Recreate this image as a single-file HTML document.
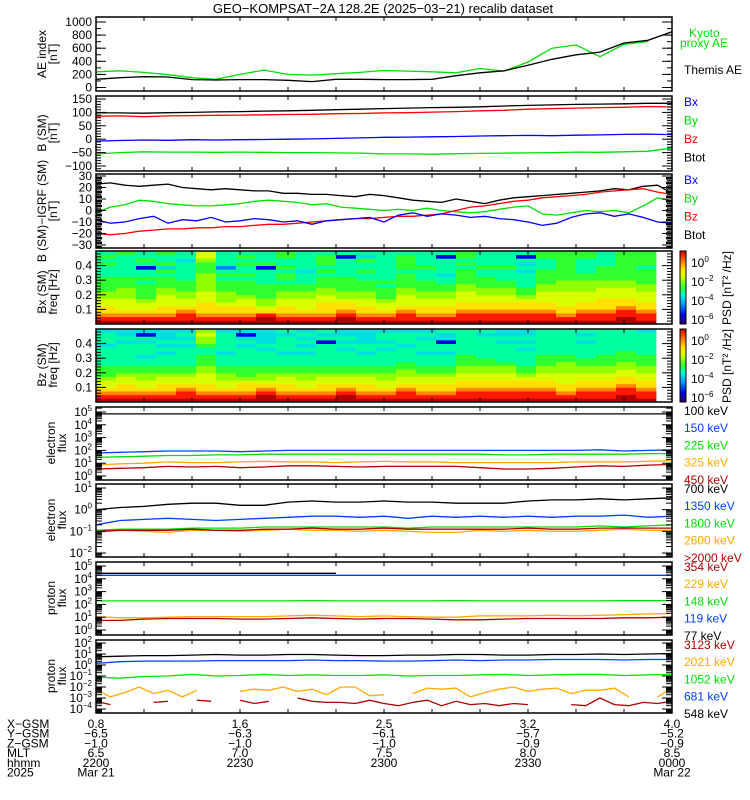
<!DOCTYPE html>
<html><head><meta charset="utf-8">
<style>
html,body{margin:0;padding:0;background:#fff;}
svg{display:block;font-family:"Liberation Sans",sans-serif;}
text{font-size:12px;}
</style></head>
<body>
<svg id="chart" width="750" height="800" viewBox="0 0 750 800" xmlns="http://www.w3.org/2000/svg">
<text x="383" y="13" text-anchor="middle" style="font-size:13px">GEO−KOMPSAT−2A 128.2E (2025−03−21) recalib dataset</text>
</svg>
<script>
// ---------- data (minutes since 22:00) ----------
const minutes5 = [0,5,10,15,20,25,30,35,40,45,50,55,60,65,70,75,80,85,90,95,100,105,110,115,120];
const minutes3 = [0,3,6,9,12,15,18,21,24,27,30,33,36,39,42,45,48,51,54,57,60,63,66,69,72,75,78,81,84,87,90,93,96,99,102,105,108,111,114,117,120];
const aeKyoto = [240,255,230,195,150,125,200,265,200,190,210,230,260,250,240,225,290,250,390,600,650,470,660,700,null];
const aeThemis = [125,150,165,160,120,115,120,120,110,90,125,125,120,120,125,180,225,255,340,430,500,540,680,720,850];
const bBtot = [98,98,97,99,100,102,103,105,106,108,110,112,114,116,118,119,121,124,126,128,130,131,132,134,134];
const bBz = [86,87,84,87,88,89,90,91,92,93,95,96,98,99,101,103,106,108,112,114,116,118,119,122,120];
const bBx = [-7,-5,-3,-4,-2,-3,-2,-1,0,1,3,5,7,8,9,10,12,13,14,13,15,16,18,19,17];
const bBy = [-55,-50,-47,-48,-48,-49,-48,-49,-50,-50,-51,-52,-55,-55,-56,-54,-53,-52,-51,-50,-48,-49,-47,-45,-33];
const dBtot = [23,24,22,21,22,23,20,19,18,19,18,17,17,15,15,14,14,13,12,14,13,11,9,8,7,10,8,6,9,11,12,13,14,15,16,17,19,18,21,22,15];
const dBy = [-2,3,5,9,8,6,5,4,4,5,6,8,9,8,7,5,6,3,2,1,0,1,0,2,0,-1,-2,-1,1,3,4,-3,-4,-2,0,-1,0,-2,4,11,8];
const dBz = [-20,-21,-20,-18,-17,-16,-16,-15,-15,-14,-14,-13,-12,-12,-11,-10,-9,-8,-7,-7,-6,-5,-5,-4,-3,0,3,4,6,8,9,11,12,13,14,16,17,18,19,16,14];
const dBx = [-8,-11,-10,-7,-5,-11,-8,-9,-6,-10,-9,-7,-8,-10,-9,-12,-9,-8,-7,-6,-10,-4,-2,-5,-3,-4,-6,-5,-7,-8,-10,-13,-11,-6,-3,-2,-5,-3,-6,-10,-11];
const specBx = ["ba988776655554445454","ba987776665554444445","ba987765555454414544","ba988777665554535445","baa98776655544444344","ba988877766666555677","ba988766655545424444","ba988776555545445454","bba87665555444415444","ba988776655455454455","ba987776655444344444","ba988877665554545554","bba98876655554444414","ba988776655544544534","ba987765554544444444","baa98777665555455554","ba988776655544454444","ba988776655443444414","baa98877766555545455","baa98877665554454444","baa98877665544454444","baa98876554444343414","baa98877766555544455","ba988777766655555555","baa98877766655444455","baa98887776655554444","bbaa9887776655555555","baa98877766555545555"];
const specBz = ["ba987765554444434443","ba988776554444443433","ba987766554434443413","ba988776554443434333","baa98776554444434343","ba988777665554456676","ba987766554443444443","ba988765554444434313","bba98766554444343333","ba988776554443444434","ba987766554443434343","ba988776554444441434","bba98776554444343433","ba988776554443443333","ba987766554444343443","baa98776655444434443","ba988776554443444343","ba988776554443441334","baa98877665554444444","baa98877665544444434","baa98877665444443433","baa98876554444343433","baa98877665554444444","ba988777666554444444","baa98877665544443434","baa98877665554444444","bbaa9887766555444444","baa98877665554444443"];
const e100 = [4.85,4.85,4.85,4.85,4.85,4.85,4.85,4.85,4.85,4.85,4.85,4.85,4.85,4.85,4.85,4.85,4.85,4.85,4.85,4.85,4.85,4.85,4.85,4.85,4.85];
const e150 = [1.8,1.85,1.9,1.95,1.95,1.95,1.9,1.95,2.0,2.0,2.0,2.0,2.0,2.0,2.0,2.0,2.0,2.0,2.0,2.0,2.0,2.05,1.95,2.0,2.05];
const e225 = [1.45,1.5,1.55,1.6,1.6,1.65,1.65,1.7,1.7,1.7,1.7,1.7,1.7,1.7,1.7,1.7,1.7,1.65,1.65,1.7,1.7,1.7,1.7,1.75,1.75];
const e325 = [0.85,0.95,1.0,1.1,1.05,1.05,1.1,1.15,1.1,1.1,1.05,1.1,1.15,1.1,1.1,1.05,1.05,1.05,1.05,1.05,1.1,1.1,1.1,1.15,1.2];
const e450 = [0.55,0.6,0.65,0.75,0.7,0.75,0.65,0.7,0.8,0.8,0.75,0.7,0.75,0.75,0.75,0.75,0.65,0.55,0.55,0.6,0.7,0.8,0.75,0.85,0.9];
const e700 = [0.0,0.1,0.15,0.25,0.3,0.3,0.2,0.2,0.35,0.4,0.35,0.35,0.4,0.35,0.35,0.3,0.3,0.3,0.4,0.45,0.45,0.5,0.45,0.5,0.55];
const e1350 = [-0.7,-0.5,-0.45,-0.4,-0.45,-0.5,-0.45,-0.4,-0.35,-0.3,-0.3,-0.35,-0.3,-0.4,-0.3,-0.35,-0.3,-0.35,-0.3,-0.35,-0.3,-0.3,-0.25,-0.35,-0.3];
const e1800 = [-0.95,-0.9,-0.9,-0.9,-0.85,-0.85,-0.85,-0.8,-0.8,-0.8,-0.8,-0.8,-0.8,-0.85,-0.8,-0.8,-0.8,-0.8,-0.8,-0.8,-0.8,-0.75,-0.8,-0.75,-0.7];
const e2600 = [-1.05,-0.95,-1.0,-1.05,-0.95,-0.95,-1.0,-0.95,-0.9,-0.95,-0.95,-1.0,-0.95,-1.0,-1.05,-1.05,-0.95,-1.0,-0.95,-1.0,-1.0,-0.95,-0.9,-0.95,-0.95];
const e2000 = [-1.0,-0.95,-0.95,-0.95,-0.9,-0.95,-0.95,-0.9,-0.9,-0.85,-0.9,-0.9,-0.85,-0.9,-0.9,-0.9,-0.9,-0.9,-0.85,-0.9,-0.9,-0.85,-0.85,-0.85,-0.85];
const p77 = [4.43,4.43,4.43,4.43,4.43,4.43,4.43,4.43,4.43,4.43,4.43,null,null,null,null,null,null,null,null,null,null,null,null,null,null];
const p119 = [4.27,4.27,4.27,4.27,4.27,4.27,4.27,4.27,4.27,4.27,4.27,4.27,4.27,4.27,4.27,4.27,4.27,4.27,4.27,4.27,4.27,4.27,4.27,4.27,4.27];
const p148 = [2.27,2.27,2.27,2.27,2.27,2.27,2.27,2.27,2.27,2.3,2.27,2.27,2.27,2.27,2.27,2.3,2.27,2.27,2.27,2.27,2.27,2.27,2.3,2.3,2.3];
const p229 = [1.05,0.95,0.95,1.0,1.05,1.05,1.05,1.05,1.1,1.15,1.1,1.05,1.1,1.05,1.0,1.0,1.1,1.1,1.1,1.15,1.1,1.15,1.2,1.25,1.3];
const p354 = [0.75,0.75,0.85,0.9,0.9,0.9,0.85,0.85,0.9,0.95,0.9,0.85,0.9,0.9,0.85,0.8,0.8,0.85,0.9,0.9,0.9,0.9,0.95,0.95,1.0];
const p548 = [0.75,0.8,0.85,0.85,0.9,0.95,0.9,0.9,0.95,0.95,0.9,0.85,0.85,0.9,0.9,0.95,0.95,0.9,0.9,0.95,0.95,1.0,0.95,1.0,1.05];
const p681 = [0.15,0.3,0.35,0.35,0.35,0.4,0.4,0.4,0.4,0.45,0.4,0.4,0.35,0.35,0.4,0.45,0.4,0.45,0.45,0.5,0.5,0.5,0.45,0.5,0.5];
const p1052 = [-1.1,-1.2,-1.05,-1.0,-0.85,-1.0,-0.95,-0.85,-0.95,-0.9,-0.95,-0.95,-0.9,-1.0,-0.95,-0.95,-0.9,-0.85,-0.95,-0.9,-0.85,-0.85,-0.95,-0.9,-0.85];
const p2021 = [-2.2,-2.9,-2.5,-2.0,-2.6,-2.3,-2.9,-2.3,null,null,-2.4,-2.2,-2.3,-2.0,-2.4,-2.2,-2.7,-2.0,-2.0,-2.8,-2.7,null,-2.6,-2.1,-2.2,-2.1,-2.9,-2.5,-2.2,-2.0,-2.4,-2.2,-2.1,-2.6,-2.3,-2.3,-2.1,-2.9,null,-2.9,-2.1];
const p3123 = [-3.3,-3.6,null,null,-3.4,-3.3,null,-3.2,-3.3,null,-3.2,-3.5,-3.3,null,-3.0,-3.3,-3.4,-3.4,-3.5,-3.2,-3.5,-3.7,-3.4,-3.2,-3.7,-3.3,-3.6,-3.5,-3.7,-3.5,-3.6,null,null,-3.6,-3.7,-3.0,-3.6,-3.7,-3.4,-3.5,-3.3];
const xTickLabels = {xgsm:["0.8","1.6","2.5","3.2","4.0"], ygsm:["−6.5","−6.3","−6.1","−5.7","−5.2"], zgsm:["−1.0","−1.0","−1.0","−0.9","−0.9"], mlt:["6.5","7.0","7.5","8.0","8.5"], hhmm:["2200","2230","2300","2330","0000"], date:["Mar 21","","","","Mar 22"]};

// ---------- helpers ----------
const svg = document.getElementById('chart');
const NS = 'http://www.w3.org/2000/svg';
const X0 = 96, X1 = 672;
function xs(m){ return X0 + (X1 - X0) * m / 120; }
function mk(tag, attrs, parent){ const e = document.createElementNS(NS, tag); for (const k in attrs) e.setAttribute(k, attrs[k]); (parent||svg).appendChild(e); return e; }
function lin(v0,y0,v1,y1){ return v => y0 + (v - v0) * (y1 - y0) / (v1 - v0); }

const panels = [
 {id:'ae', top:17, bot:91, y:lin(0,87.5,1000,22), log:false},
 {id:'b', top:96, bot:171, y:lin(150,99,-100,166), log:false},
 {id:'db', top:174, bot:248, y:lin(30,176,-30,245), log:false},
 {id:'specx', top:251, bot:324, y:lin(0,324,0.5,251), log:false},
 {id:'specz', top:329, bot:402, y:lin(0,402,0.5,329), log:false},
 {id:'e1', top:407, bot:480, y:lin(5,412,0,476), log:true, lo:0, hi:5},
 {id:'e2', top:484, bot:557, y:lin(1,488,-2,553), log:true, lo:-2, hi:1},
 {id:'p1', top:562, bot:635, y:lin(5,566,0,630), log:true, lo:0, hi:5},
 {id:'p2', top:640, bot:713, y:lin(2,643,-4,709), log:true, lo:-4, hi:2}
];
const P = {}; panels.forEach(p => P[p.id] = p);

function series(p, xsArr, vals, color, name){
  const g = mk('g', {});
  
  
  let seg = [];
  const flush = () => { if (seg.length > 1) mk('polyline', {points: seg.join(' '), fill:'none', stroke:color, 'stroke-width':1.3}, g); seg = []; };
  for (let i = 0; i < vals.length; i++){
    const v = vals[i];
    if (v === null || v === undefined){ flush(); continue; }
    let yy = p.y(v); yy = Math.max(p.top, Math.min(p.bot, yy));
    seg.push(xs(xsArr[i]).toFixed(1) + ',' + yy.toFixed(1));
  }
  flush();
}

function ylab(p, v, label, supText){
  const t = mk('text', {x: 92, y: p.y(v) + 4, 'text-anchor':'end'});
  
  
  if (supText !== undefined){
    t.textContent = '10';
    const s = mk('tspan', {dy:-5, style:'font-size:8px'}, t); s.textContent = supText;
  } else t.textContent = label;
}

function ticksH(y, x, len, dir){ mk('line', {x1:x, x2:x + dir*len, y1:y, y2:y, stroke:'#000', 'stroke-width':1}); }

// ---------- spectrograms ----------
const cmap = {'0':'#30006a','1':'#0000e0','2':'#0080ff','3':'#00e0e0','4':'#00ffa0','5':'#30ff30','6':'#90ff00','7':'#d8ff00','8':'#ffe000','9':'#ff8800','a':'#ff1800','b':'#b00000'};
function spectro(p, cols, name){
  const g = mk('g', {});
  
  
  const colW = (656 - X0) / cols.length;
  cols.forEach((s, ci) => {
    const nb = s.length;
    for (let r = 0; r < nb; r++){
      const f0 = 0.5 * r / nb, f1 = 0.5 * (r + 1) / nb;
      const y1 = p.y(f1), y0 = p.y(f0);
      mk('rect', {x: (X0 + ci*colW).toFixed(2), y: y1.toFixed(2), width: (colW+0.4).toFixed(2), height: (y0 - y1 + 0.4).toFixed(2), fill: cmap[s[r]]}, g);
    }
  });
}
spectro(P.specx, specBx, 'bx-spectrogram');
spectro(P.specz, specBz, 'bz-spectrogram');

// ---------- series ----------
series(P.ae, minutes5, aeKyoto, '#00e000', 'kyoto-proxy-ae-line');
series(P.ae, minutes5, aeThemis, '#000', 'themis-ae-line');
series(P.b, minutes5, bBtot, '#000', 'btot-line');
series(P.b, minutes5, bBz, '#ff0000', 'bz-line');
series(P.b, minutes5, bBx, '#0000ff', 'bx-line');
series(P.b, minutes5, bBy, '#00e000', 'by-line');
series(P.db, minutes3, dBtot, '#000', 'dbtot-line');
series(P.db, minutes3, dBy, '#00e000', 'dby-line');
series(P.db, minutes3, dBz, '#ff0000', 'dbz-line');
series(P.db, minutes3, dBx, '#0000ff', 'dbx-line');
series(P.e1, minutes5, e100, '#000', 'electron-100kev');
series(P.e1, minutes5, e150, '#0040ff', 'electron-150kev');
series(P.e1, minutes5, e225, '#00e000', 'electron-225kev');
series(P.e1, minutes5, e325, '#ffaa00', 'electron-325kev');
series(P.e1, minutes5, e450, '#b00000', 'electron-450kev');
series(P.e2, minutes5, e700, '#000', 'electron-700kev');
series(P.e2, minutes5, e1350, '#0040ff', 'electron-1350kev');
series(P.e2, minutes5, e1800, '#00e000', 'electron-1800kev');
series(P.e2, minutes5, e2600, '#ffaa00', 'electron-2600kev');
series(P.e2, minutes5, e2000, '#b00000', 'electron-gt2000kev');
series(P.p1, minutes5, p77, '#000', 'proton-77kev');
series(P.p1, minutes5, p119, '#0040ff', 'proton-119kev');
series(P.p1, minutes5, p148, '#00e000', 'proton-148kev');
series(P.p1, minutes5, p229, '#ffaa00', 'proton-229kev');
series(P.p1, minutes5, p354, '#b00000', 'proton-354kev');
series(P.p2, minutes5, p548, '#000', 'proton-548kev');
series(P.p2, minutes5, p681, '#0040ff', 'proton-681kev');
series(P.p2, minutes5, p1052, '#00e000', 'proton-1052kev');
series(P.p2, minutes3, p2021, '#ffaa00', 'proton-2021kev');
series(P.p2, minutes3, p3123, '#b00000', 'proton-3123kev');

// ---------- axes ----------
panels.forEach(p => {
  const r = mk('rect', {x:X0, y:p.top, width:X1-X0, height:p.bot-p.top, fill:'none', stroke:'#000', 'stroke-width':1.5});
  
  
  for (let m = 10; m < 120; m += 10){
    const x = xs(m);
    mk('line', {x1:x, x2:x, y1:p.top, y2:p.top+4, stroke:'#000'});
    mk('line', {x1:x, x2:x, y1:p.bot, y2:p.bot-4, stroke:'#000'});
  }
  if (p.log){
    for (let d = p.lo - 1; d <= p.hi; d++){
      for (let k = 1; k <= 9; k++){
        const yy = p.y(d + Math.log10(k));
        if (yy < p.top || yy > p.bot) continue;
        const len = k === 1 ? 10 : 6;
        ticksH(yy, X0, len, 1); ticksH(yy, X1, len, -1);
      }
      if (d >= p.lo) ylab(p, d, null, String(d).replace('-', '−'));
    }
  }
});
function linTicks(p, vals, minorStep, lo, hi){
  vals.forEach(v => { ticksH(p.y(v), X0, 10, 1); ticksH(p.y(v), X1, 10, -1); ylab(p, v, String(v).replace('-', '−')); });
  for (let v = lo; v <= hi + 1e-9; v += minorStep){ const yy = p.y(v); if (yy < p.top || yy > p.bot) continue; ticksH(yy, X0, 5, 1); ticksH(yy, X1, 5, -1); }
}
linTicks(P.ae, [0,200,400,600,800,1000], 100, 0, 1000);
linTicks(P.b, [150,100,50,0,-50,-100], 10, -110, 150);
linTicks(P.db, [30,20,10,0,-10,-20,-30], 2, -32, 30);
linTicks(P.specx, [0.1,0.2,0.3,0.4], 0.02, 0, 0.5);
linTicks(P.specz, [0.1,0.2,0.3,0.4], 0.02, 0, 0.5);
for (let v = -32; v <= 30; v += 4){ mk('rect', {x:X0, y:P.db.y(v)-1.3, width:6, height:2.6, fill:'#000'}); mk('rect', {x:X1-6, y:P.db.y(v)-1.3, width:6, height:2.6, fill:'#000'}); }

// ---------- y-axis titles ----------
function ytitle(x, y, lines, name){
  const t = mk('text', {transform:`translate(${x},${y}) rotate(-90)`, 'text-anchor':'middle'});
  
  
  lines.forEach((l, i) => { const s = mk('tspan', {x:0, dy: i ? 11 : 0}, t); s.textContent = l; });
}
ytitle(46, 54, ['AE index', '[nT]'], 'ae-y-axis-title');
ytitle(46, 133, ['B (SM)', '[nT]'], 'b-y-axis-title');
ytitle(46, 211, ['B (SM)−IGRF (SM)', '[nT]'], 'db-y-axis-title');
ytitle(46, 292, ['Bx (SM)', 'freq [Hz]'], 'bx-spec-y-axis-title');
ytitle(46, 365, ['Bz (SM)', 'freq [Hz]'], 'bz-spec-y-axis-title');
ytitle(55, 443, ['electron', 'flux'], 'electron-flux-1-y-axis-title');
ytitle(55, 520, ['electron', 'flux'], 'electron-flux-2-y-axis-title');
ytitle(55, 598, ['proton', 'flux'], 'proton-flux-1-y-axis-title');
ytitle(55, 676, ['proton', 'flux'], 'proton-flux-2-y-axis-title');

// ---------- legends ----------
function leg(x, y, txt, color, name){
  const t = mk('text', {x, y, fill: color});
  
  
  t.textContent = txt;
}
leg(689, 37, 'Kyoto', '#00e000', 'legend-kyoto'); leg(680, 47, 'proxy AE', '#00e000', 'legend-proxy-ae');
leg(684, 74, 'Themis AE', '#000', 'legend-themis-ae');
[['Bx','#0000ff'],['By','#00e000'],['Bz','#ff0000'],['Btot','#000']].forEach((l,i) => leg(684, 106 + i*18.5, l[0], l[1], 'legend-b-' + l[0].toLowerCase()));
[['Bx','#0000ff'],['By','#00e000'],['Bz','#ff0000'],['Btot','#000']].forEach((l,i) => leg(684, 184 + i*18.3, l[0], l[1], 'legend-db-' + l[0].toLowerCase()));
const legE1 = [['100 keV','#000'],['150 keV','#0040ff'],['225 keV','#00e000'],['325 keV','#ffaa00'],['450 keV','#b00000']];
const legE2 = [['700 keV','#000'],['1350 keV','#0040ff'],['1800 keV','#00e000'],['2600 keV','#ffaa00'],['>2000 keV','#b00000']];
const legP1 = [['354 keV','#b00000'],['229 keV','#ffaa00'],['148 keV','#00e000'],['119 keV','#0040ff'],['77 keV','#000']];
const legP2 = [['3123 keV','#b00000'],['2021 keV','#ffaa00'],['1052 keV','#00e000'],['681 keV','#0040ff'],['548 keV','#000']];
[[legE1,415],[legE2,493],[legP1,571],[legP2,649]].forEach(([arr,y0]) => arr.forEach((l,i) => leg(684, y0 + i*17.2, l[0], l[1], 'legend-' + l[0].replace(/[^0-9a-z]/gi,'').toLowerCase())));

// ---------- colorbars ----------
const defs = mk('defs', {});
const grad = mk('linearGradient', {id:'cb', x1:0, y1:1, x2:0, y2:0}, defs);
[['0','#30006a'],['0.12','#0000e0'],['0.28','#00a0ff'],['0.4','#00ffd0'],['0.5','#30ff30'],['0.65','#d8ff00'],['0.75','#ffe000'],['0.87','#ff7000'],['1','#d00000']].forEach(s => mk('stop', {offset:s[0], 'stop-color':s[1]}, grad));
[[P.specx,'bx'],[P.specz,'bz']].forEach(([p,n]) => {
  const r = mk('rect', {x:680, y:p.top, width:6, height:p.bot-p.top, fill:'url(#cb)', stroke:'#000', 'stroke-width':1});
  
  
  const labs = [['0',12],['−2',31],['−4',50],['−6',69]];
  labs.forEach(l => {
    const t = mk('text', {x:691, y:p.top + l[1] + 4});
    
    
    t.textContent = '10';
    const s = mk('tspan', {dy:-5, style:'font-size:8px'}, t); s.textContent = l[0];
  });
  ytitle(731, p.top + 37, ['PSD [nT² /Hz]'], n + '-colorbar-title');
});

// ---------- bottom annotation ----------
const rowNames = ['X−GSM','Y−GSM','Z−GSM','MLT','hhmm','2025'];
const rowKeys = ['xgsm','ygsm','zgsm','mlt','hhmm','date'];
rowNames.forEach((nm, i) => {
  const y = 728 + i * 9.7;
  const t = mk('text', {x:7, y});
  
  
  t.textContent = nm;
  xTickLabels[rowKeys[i]].forEach((lab, j) => {
    if (!lab) return;
    const u = mk('text', {x: xs(j * 30), y, 'text-anchor':'middle'});
    
    
    u.textContent = lab;
  });
});
</script>
</body></html>
